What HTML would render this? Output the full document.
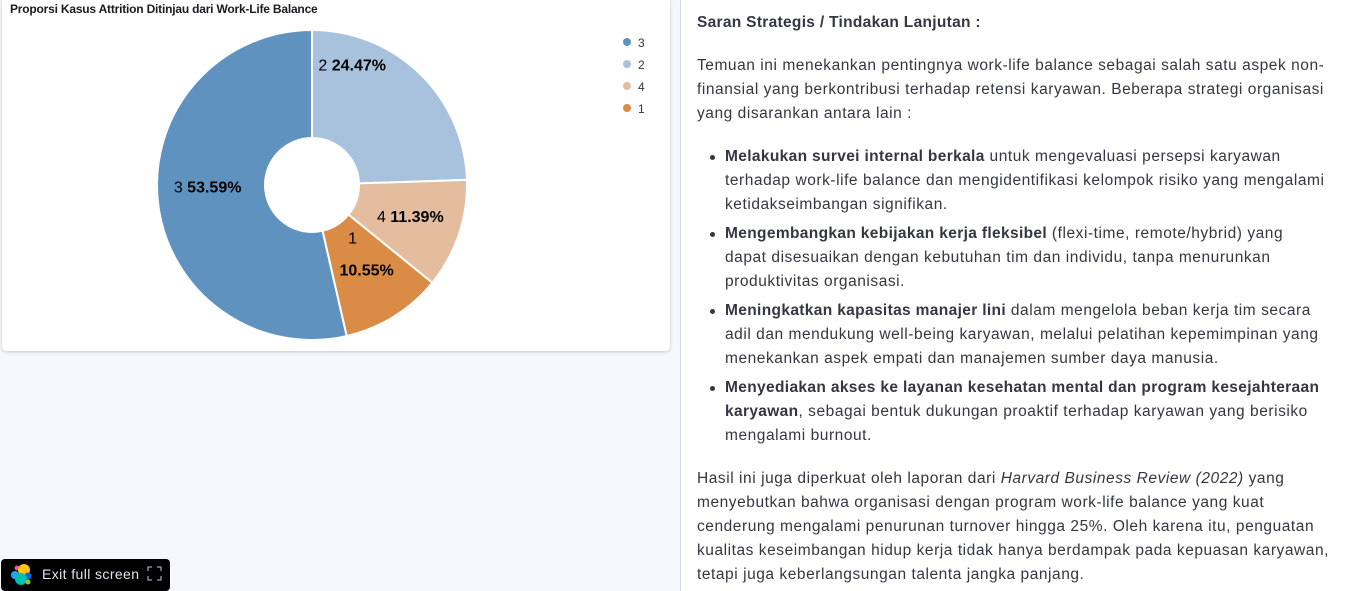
<!DOCTYPE html>
<html><head><meta charset="utf-8">
<style>
body{margin:0;width:1345px;height:591px;overflow:hidden;background:#f7f8fc;font-family:"Liberation Sans",sans-serif;position:relative}
#card{position:absolute;left:2px;top:-4px;width:668px;height:355px;background:#fff;border-radius:4px;box-shadow:0 1px 3px rgba(0,0,0,.2)}
#title{position:absolute;left:8px;top:6px;font-size:12px;font-weight:bold;color:#1a1c21;letter-spacing:-0.2px}
#right{position:absolute;left:680px;top:0;width:665px;height:591px;background:#fff;border-left:1px solid #d3dae6;color:#343741;font-size:15.5px;line-height:24px;letter-spacing:0.55px}
#right p{margin:0;position:absolute;left:16px;width:645px;white-space:nowrap}
#right ul{margin:0;padding:0;list-style:none;position:absolute;left:16px;width:640px}
#right li{position:absolute;left:28px;width:620px;white-space:nowrap}
#right li b{letter-spacing:0.35px}
#right li:before{content:"";position:absolute;left:-15px;top:10px;width:5px;height:5px;border-radius:50%;background:#343741}
#exit{position:absolute;left:1px;top:559px;width:169px;height:32px;background:#000;border-radius:4px;color:#dfe5ef;font-size:14px}
</style></head><body>
<div id="card">
<div id="title">Proporsi Kasus Attrition Ditinjau dari Work-Life Balance</div>
</div>
<svg id="chart" width="680" height="355" style="position:absolute;left:0;top:0"></svg>
<div id="right">
<p style="top:11px;font-weight:bold;letter-spacing:0.3px">Saran Strategis / Tindakan Lanjutan :</p>
<p style="top:54px">Temuan ini menekankan pentingnya work-life balance sebagai salah satu aspek non-<br>finansial yang berkontribusi terhadap retensi karyawan. Beberapa strategi organisasi<br>yang disarankan antara lain :</p>
<ul>
<li style="top:145px"><b>Melakukan survei internal berkala</b> untuk mengevaluasi persepsi karyawan<br>terhadap work-life balance dan mengidentifikasi kelompok risiko yang mengalami<br>ketidakseimbangan signifikan.</li>
<li style="top:222px"><b>Mengembangkan kebijakan kerja fleksibel</b> (flexi-time, remote/hybrid) yang<br>dapat disesuaikan dengan kebutuhan tim dan individu, tanpa menurunkan<br>produktivitas organisasi.</li>
<li style="top:299px"><b>Meningkatkan kapasitas manajer lini</b> dalam mengelola beban kerja tim secara<br>adil dan mendukung well-being karyawan, melalui pelatihan kepemimpinan yang<br>menekankan aspek empati dan manajemen sumber daya manusia.</li>
<li style="top:376px"><b>Menyediakan akses ke layanan kesehatan mental dan program kesejahteraan<br>karyawan</b>, sebagai bentuk dukungan proaktif terhadap karyawan yang berisiko<br>mengalami burnout.</li>
</ul>
<p style="top:467px">Hasil ini juga diperkuat oleh laporan dari <i>Harvard Business Review (2022)</i> yang<br>menyebutkan bahwa organisasi dengan program work-life balance yang kuat<br>cenderung mengalami penurunan turnover hingga 25%. Oleh karena itu, penguatan<br>kualitas keseimbangan hidup kerja tidak hanya berdampak pada kepuasan karyawan,<br>tetapi juga keberlangsungan talenta jangka panjang.</p>
</div>
<div id="exit">
<svg width="169" height="32" style="position:absolute;left:0;top:0">
<circle cx="16" cy="9" r="2.5" fill="#f04e98"/><circle cx="23" cy="11" r="6" fill="#fec514"/><circle cx="14" cy="16" r="4" fill="#1ba9f5"/><circle cx="27" cy="17" r="3.5" fill="#0b64dd"/><circle cx="20" cy="20" r="6" fill="#00bfb3"/><circle cx="27" cy="23" r="2.5" fill="#93c90e"/>
<path d="M147 12V8h4M156 8h4v4M160 17v4h-4M151 21h-4v-4" fill="none" stroke="#98a2b3" stroke-width="1.3"/>
<text x="41" y="20" fill="#dfe5ef" font-size="14" letter-spacing="0.4" font-family="Liberation Sans, sans-serif">Exit full screen</text>
</svg>
</div>
<script>
const categories=["2","4","1","3"];
const values=[24.47,11.39,10.55,53.59];
const legendOrder=["3","2","4","1"];
const colors={"3":"#6092c0","2":"#a8c1dc","4":"#e4bd9e","1":"#da8b45"};
// label anchor offsets relative to slice mid-angle position (layout only)
const labelShift={"2":[-30,-48],"4":[-5,-4],"1":[-3,-14],"3":[-4,-10]};
const svg=document.getElementById('chart');
const NS="http://www.w3.org/2000/svg";
const cx=312,cy=185,R=155,r=47;
const total=values.reduce((a,b)=>a+b,0);
function pt(a,rad){return [cx+rad*Math.sin(a),cy-rad*Math.cos(a)];}
let acc=0;
categories.forEach((c,i)=>{
 const a0=acc/total*2*Math.PI;acc+=values[i];const a1=acc/total*2*Math.PI;
 const big=(a1-a0)>Math.PI?1:0;
 const p0=pt(a0,R),p1=pt(a1,R),q1=pt(a1,r),q0=pt(a0,r);
 const p=document.createElementNS(NS,'path');
 p.setAttribute('d',`M${p0[0]},${p0[1]}A${R},${R} 0 ${big} 1 ${p1[0]},${p1[1]}L${q1[0]},${q1[1]}A${r},${r} 0 ${big} 0 ${q0[0]},${q0[1]}Z`);
 p.setAttribute('fill',colors[c]);p.setAttribute('stroke','#fff');p.setAttribute('stroke-width','2');
 
 
 svg.appendChild(p);
 const am=(a0+a1)/2;const lr=(R+r)/2+((a1-a0)<0.8?8:0);
 const lp=pt(am,lr);const sh=labelShift[c]||[0,0];
 const x=lp[0]+sh[0],y=lp[1]+sh[1];
 const t=document.createElementNS(NS,'text');
 t.setAttribute('font-size','16');t.setAttribute('fill','#000');
 
 
 if((a1-a0)<0.7){
  t.setAttribute('text-anchor','middle');
  t.innerHTML=`<tspan x="${x-14}" y="${y-20}">${c}</tspan><tspan x="${x}" y="${y+12}" font-weight="bold">${values[i].toFixed(2)}%</tspan>`;
 } else {
  t.setAttribute('x',x);t.setAttribute('y',y+6);t.setAttribute('text-anchor','middle');
  t.innerHTML=`${c} <tspan font-weight="bold">${values[i].toFixed(2)}%</tspan>`;
 }
 svg.appendChild(t);
});
legendOrder.forEach((c,i)=>{
 const g=document.createElementNS(NS,'g');
 
 
 const ci=document.createElementNS(NS,'circle');
 ci.setAttribute('cx',627);ci.setAttribute('cy',42+i*22);ci.setAttribute('r',4);ci.setAttribute('fill',colors[c]);
 const t=document.createElementNS(NS,'text');
 t.setAttribute('x',638);t.setAttribute('y',47+i*22);t.setAttribute('font-size','12');t.setAttribute('fill','#343741');
 t.textContent=c;
 g.appendChild(ci);g.appendChild(t);svg.appendChild(g);
});
</script>
</body></html>
